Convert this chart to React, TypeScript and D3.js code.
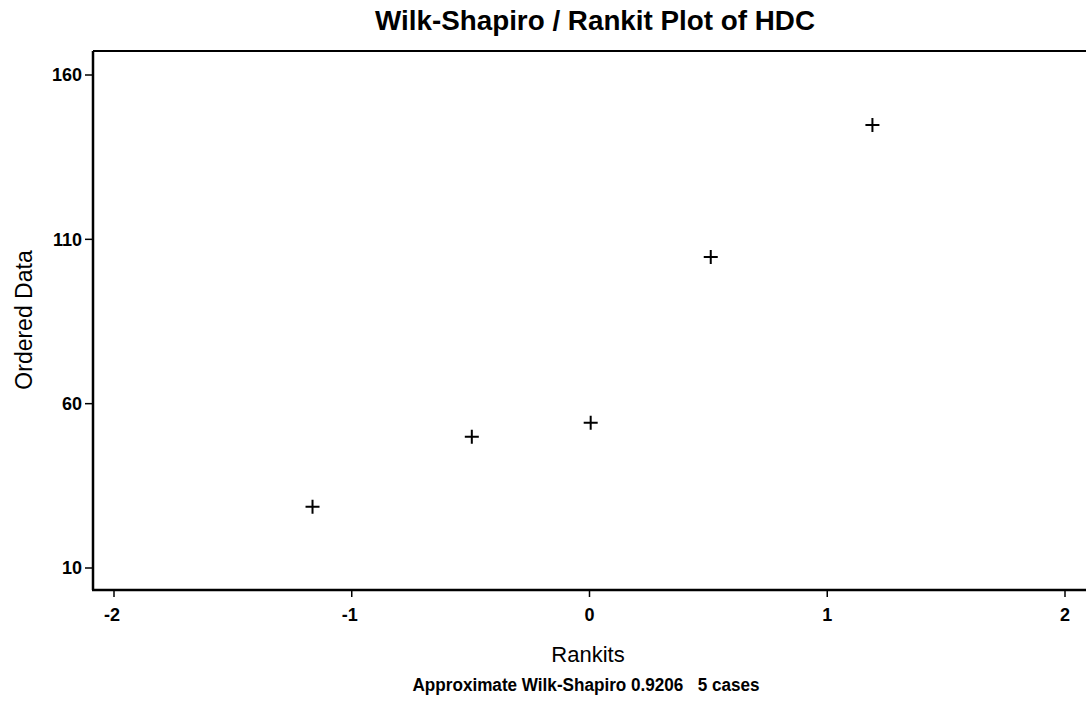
import { useEffect, useRef } from "react";
import * as d3 from "d3";

// rankits (normal scores) and the ordered HDC values
const rankits = [-1.165, -0.495, 0.005, 0.51, 1.19];
const ordered = [28.6, 49.9, 54.2, 104.6, 144.8];
const xTicks = [-2, -1, 0, 1, 2];
const yTicks = [10, 60, 110, 160];

const W = 1086;
const H = 709;
const FONT = "'Liberation Sans', Arial, sans-serif";

export default function App() {
  const svgRef = useRef<SVGSVGElement | null>(null);

  useEffect(() => {
    const svg = d3.select(svgRef.current);
    svg.selectAll("*").remove();

    const x = d3.scaleLinear().domain([-2, 2]).range([114, 1065]);
    const y = d3.scaleLinear().domain([10, 160]).range([568, 75]);
    const left = 93;
    const top = 51;
    const bottom = 590;

    // frame: top line, left axis, bottom axis (right side is off the page)
    svg.append("line").attr("x1", left).attr("x2", W + 10).attr("y1", top).attr("y2", top)
      .attr("stroke", "#000").attr("stroke-width", 2);
    svg.append("line").attr("x1", left).attr("x2", left).attr("y1", top).attr("y2", bottom)
      .attr("stroke", "#000").attr("stroke-width", 2.5);
    svg.append("line").attr("x1", left - 1).attr("x2", W + 10).attr("y1", bottom).attr("y2", bottom)
      .attr("stroke", "#000").attr("stroke-width", 2.5);

    // y ticks
    const yg = svg.append("g");
    yg.selectAll("line").data(yTicks).join("line")
      .attr("x1", left - 8).attr("x2", left)
      .attr("y1", (d) => y(d)).attr("y2", (d) => y(d))
      .attr("stroke", "#000").attr("stroke-width", 1.5);
    yg.selectAll("text").data(yTicks).join("text")
      .attr("x", left - 11).attr("y", (d) => y(d)).attr("dy", "0.35em")
      .attr("text-anchor", "end").attr("font-family", FONT).attr("font-size", 18)
      .attr("font-weight", "bold").text((d) => String(d));

    // x ticks
    const xg = svg.append("g");
    xg.selectAll("line").data(xTicks).join("line")
      .attr("x1", (d) => x(d)).attr("x2", (d) => x(d))
      .attr("y1", bottom).attr("y2", bottom + 7)
      .attr("stroke", "#000").attr("stroke-width", 1.5);
    xg.selectAll("text").data(xTicks).join("text")
      .attr("x", (d) => x(d) + (d < 0 ? -2 : 0)).attr("y", 621)
      .attr("text-anchor", "middle").attr("font-family", FONT).attr("font-size", 18)
      .attr("font-weight", "bold").text((d) => String(d));

    // points as plus markers
    const pts = rankits.map((r, i) => [x(r), y(ordered[i])] as [number, number]);
    const arm = 7;
    svg.append("g").selectAll("path").data(pts).join("path")
      .attr("d", ([px, py]) => `M${px - arm},${py}H${px + arm}M${px},${py - arm}V${py + arm}`)
      .attr("stroke", "#000").attr("stroke-width", 2).attr("fill", "none");

    // titles
    svg.append("text").attr("x", 595).attr("y", 30).attr("text-anchor", "middle")
      .attr("font-family", FONT).attr("font-size", 27).attr("font-weight", "bold")
      .attr("textLength", 440).attr("lengthAdjust", "spacingAndGlyphs")
      .text("Wilk-Shapiro / Rankit Plot of HDC");

    svg.append("text").attr("x", 588).attr("y", 662).attr("text-anchor", "middle")
      .attr("font-family", FONT).attr("font-size", 22).text("Rankits");

    svg.append("text")
      .attr("transform", "translate(32,320) rotate(-90)")
      .attr("text-anchor", "middle").attr("font-family", FONT).attr("font-size", 23)
      .text("Ordered Data");

    svg.append("text").attr("x", 586).attr("y", 691).attr("text-anchor", "middle")
      .attr("font-family", FONT).attr("font-size", 18).attr("font-weight", "bold")
      .attr("textLength", 347).attr("lengthAdjust", "spacingAndGlyphs")
      .attr("xml:space", "preserve")
      .text("Approximate Wilk-Shapiro 0.9206   5 cases");
  }, []);

  return (
    <svg
      ref={svgRef}
      width={W}
      height={H}
      style={{ position: "absolute", left: 0, top: 0, background: "#fff" }}
    />
  );
}
